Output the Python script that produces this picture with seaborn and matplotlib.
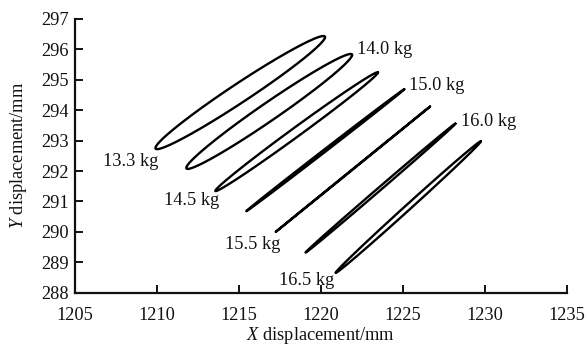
import numpy as np
import pandas as pd
import matplotlib
matplotlib.use("Agg")
import matplotlib.pyplot as plt
import seaborn as sns

# ---- data ----
loads = ["13.3 kg", "14.0 kg", "14.5 kg", "15.0 kg", "15.5 kg", "16.0 kg", "16.5 kg"]
x_min = [1209.93, 1211.81, 1213.58, 1215.47, 1217.26, 1219.08, 1220.91]
x_max = [1220.27, 1221.92, 1223.50, 1225.10, 1226.67, 1228.22, 1229.77]
y_min = [292.72, 292.07, 291.34, 290.68, 290.00, 289.32, 288.65]
y_max = [296.44, 295.85, 295.25, 294.69, 294.12, 293.56, 292.98]
phase_lag = [0.20, 0.19, 0.095, 0.025, 0.004, 0.032, 0.055]  # rad, y lags x

# label anchor points (data coords) and alignment
label_x = [1210.1, 1222.2, 1213.85, 1225.4, 1217.55, 1228.55, 1220.85]
label_y = [292.30, 295.98, 291.02, 294.80, 289.60, 293.62, 288.41]
label_ha = ["right", "left", "right", "left", "right", "left", "right"]

x_ticks = [1205, 1210, 1215, 1220, 1225, 1230, 1235]
y_ticks = [288, 289, 290, 291, 292, 293, 294, 295, 296, 297]

# ---- build one closed orbit per load ----
t = np.linspace(0, 2 * np.pi, 400)
frames = []
for name, x0, x1, y0, y1, ph in zip(loads, x_min, x_max, y_min, y_max, phase_lag):
    cx, ax_ = (x0 + x1) / 2, (x1 - x0) / 2
    cy, ay_ = (y0 + y1) / 2, (y1 - y0) / 2
    frames.append(pd.DataFrame({
        "x": cx + ax_ * np.cos(t),
        "y": cy + ay_ * np.cos(t - ph),
        "load": name,
    }))
df = pd.concat(frames, ignore_index=True)

sns.set_theme(style="ticks")
plt.rcParams["font.family"] = ["Liberation Serif", "DejaVu Serif"]
plt.rcParams["mathtext.fontset"] = "custom"
plt.rcParams["mathtext.rm"] = "Liberation Serif"
plt.rcParams["mathtext.it"] = "Liberation Serif:italic"

FS = 13.2
fig = plt.figure(figsize=(5.87, 3.45), dpi=100)
ax = fig.add_axes([0.127, 0.1516, 0.8384, 0.7934])

sns.lineplot(data=df, x="x", y="y", units="load", estimator=None, sort=False,
             color="black", linewidth=1.7, ax=ax, legend=False)

for name, lx, ly, ha in zip(loads, label_x, label_y, label_ha):
    ax.text(lx, ly, name, ha=ha, va="center", fontsize=FS, color="#111111")

ax.set_xlim(1205, 1235)
ax.set_ylim(288, 297)
ax.set_xticks(x_ticks)
ax.set_yticks(y_ticks)
ax.tick_params(direction="in", length=6, width=1.4, labelsize=FS, colors="#111111")
ax.tick_params(axis="y", pad=4)
ax.tick_params(axis="x", pad=10)
for s in ["top", "right"]:
    ax.spines[s].set_visible(False)
for s in ["left", "bottom"]:
    ax.spines[s].set_linewidth(1.6)
    ax.spines[s].set_color("#111111")

ax.set_xlabel(r"$\mathit{X}$ displacement/mm", fontsize=FS, labelpad=1, color="#111111")
ax.set_ylabel(r"$\mathit{Y}$ displacement/mm", fontsize=FS, labelpad=9, color="#111111")

fig.savefig("out.png", dpi=100)
